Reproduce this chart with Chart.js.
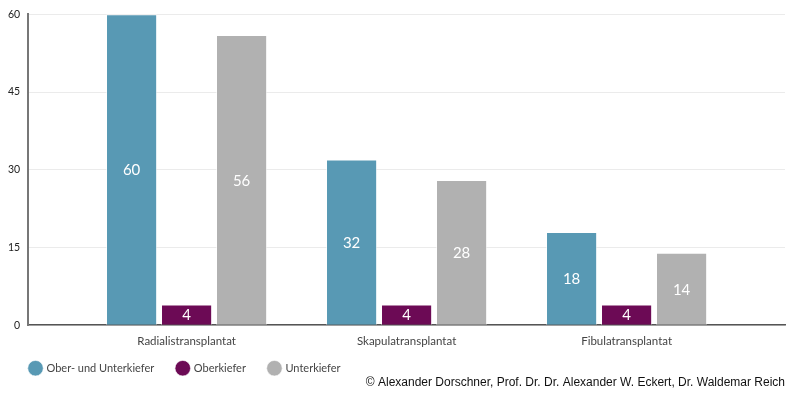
<!DOCTYPE html>
<html>
<head>
<meta charset="utf-8">
<script src="https://cdn.jsdelivr.net/npm/chart.js@4/dist/chart.umd.min.js"></script>
<style>
  html, body { margin: 0; padding: 0; background: #ffffff; }
  #wrap { width: 790px; height: 395px; position: relative; }
</style>
</head>
<body>
<div id="wrap"><canvas id="c" width="790" height="395"></canvas></div>
<script>
const categories = ['Radialistransplantat', 'Skapulatransplantat', 'Fibulatransplantat'];
const seriesNames = ['Ober- und Unterkiefer', 'Oberkiefer', 'Unterkiefer'];
const oberUndUnter = [60, 32, 18];
const oberkiefer = [4, 4, 4];
const unterkiefer = [56, 28, 14];
const yTicks = [0, 15, 30, 45, 60];
const copyright = '© Alexander Dorschner, Prof. Dr. Dr. Alexander W. Eckert, Dr. Waldemar Reich';

const colors = ['#5899b4', '#6c0a55', '#b1b1b1'];
const FONT = 'Lato, "Open Sans", sans-serif';

const valueLabels = {
  id: 'valueLabels',
  afterDatasetsDraw(chart) {
    const ctx = chart.ctx;
    ctx.save();
    ctx.fillStyle = '#ffffff';
    ctx.font = '15px ' + FONT;
    ctx.textAlign = 'center';
    ctx.textBaseline = 'middle';
    chart.data.datasets.forEach((ds, i) => {
      const meta = chart.getDatasetMeta(i);
      meta.data.forEach((el, j) => {
        const p = el.getProps(['x', 'y', 'base'], true);
        ctx.fillText(String(ds.data[j]), p.x, (p.y + p.base) / 2 + 1);
      });
    });
    ctx.restore();
  }
};

// compact legend box: keep wide item spacing but reserve less vertical room
const legendTweak = {
  id: 'legendTweak',
  beforeLayout(chart) {
    const lg = chart.legend;
    if (lg && !lg._compact) {
      const f = lg.fit;
      lg.fit = function () { f.call(this); this._fullH = this.height; this.height = 27.5; };
      lg._compact = true;
    }
  },
  afterLayout(chart) {
    const lg = chart.legend;
    if (!lg) return;
    lg.top = chart.chartArea.bottom + 14.5;
    lg.bottom = lg.top + (lg._fullH || 46);
    lg.height = lg.bottom - lg.top;
    lg.left += 7; lg.right += 7;
  }
};

new Chart(document.getElementById('c'), {
  type: 'bar',
  data: {
    labels: categories,
    datasets: [
      { label: seriesNames[0], data: oberUndUnter, backgroundColor: colors[0] },
      { label: seriesNames[1], data: oberkiefer, backgroundColor: colors[1] },
      { label: seriesNames[2], data: unterkiefer, backgroundColor: colors[2] }
    ].map(d => Object.assign(d, { borderColor: 'rgba(255,255,255,0.6)', borderWidth: 1, categoryPercentage: 0.75, barPercentage: 0.93 }))
  },
  options: {
    responsive: false,
    animation: false,
    devicePixelRatio: 1,
    layout: { padding: { left: 0, right: 5, top: 14, bottom: 2 } },
    scales: {
      x: {
        offset: true,
        afterBuildTicks(scale) {
          const spacing = 220;
          const len = scale.right - scale.left || 757;
          const range = len / spacing;
          scale._valueRange = range;
          scale._startValue = 1 - range / 2;
        },
        grid: { display: false, drawTicks: false },
        border: { display: true, color: '#555555', width: 1.5 },
        ticks: { color: '#444444', font: { family: FONT, size: 11.5 }, padding: 9 }
      },
      y: {
        min: 0, max: 60,
        afterBuildTicks(scale) { scale.ticks = yTicks.map(v => ({ value: v })); },
        grid: { color: '#ebebeb', drawTicks: false, lineWidth: 1 },
        border: { display: true, color: '#777777', width: 2 },
        ticks: { color: '#222222', font: { family: FONT, size: 10.5 }, padding: 8 }
      }
    },
    plugins: {
      legend: {
        position: 'bottom',
        align: 'start',
        labels: {
          usePointStyle: true,
          pointStyle: 'circle',
          boxWidth: 13,
          boxHeight: 13,
          padding: 23,
          color: '#444444',
          font: { family: FONT, size: 11 }
        }
      },
      subtitle: {
        display: true,
        text: copyright,
        position: 'bottom',
        align: 'end',
        color: '#111111',
        font: { family: '"Liberation Sans", Arial, sans-serif', size: 12, weight: 'normal' },
        padding: { top: -8.7, bottom: 2.8 }
      },
      tooltip: { enabled: false }
    }
  },
  plugins: [valueLabels, legendTweak]
});
</script>
</body>
</html>
